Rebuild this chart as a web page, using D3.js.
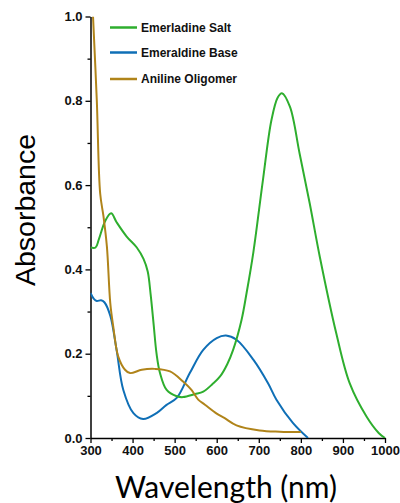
<!DOCTYPE html>
<html>
<head>
<meta charset="utf-8">
<style>
  body { margin: 0; background: #fff; }
  svg { display: block; }
  .tick text { font-family: "Liberation Sans", Arial, sans-serif; font-weight: bold; font-size: 13px; fill: #111; }
</style>
</head>
<body>
<script src="https://cdn.jsdelivr.net/npm/d3@7"></script>
<script>
// data
var saltX = [300, 312, 320, 335, 349, 362, 386, 410, 426, 436, 443, 450, 457, 465, 481, 505, 520, 548, 568, 590, 608, 625, 639, 659, 671, 687, 710, 730, 745, 755, 774, 797, 821, 845, 884, 916, 956, 985, 1000];
var saltY = [0.452, 0.452, 0.472, 0.515, 0.533, 0.512, 0.478, 0.452, 0.425, 0.395, 0.34, 0.27, 0.2, 0.155, 0.114, 0.099, 0.097, 0.104, 0.110, 0.128, 0.146, 0.175, 0.209, 0.28, 0.344, 0.44, 0.613, 0.754, 0.808, 0.818, 0.786, 0.675, 0.557, 0.43, 0.249, 0.13, 0.051, 0.012, 0];

var baseX = [300, 308, 315, 325, 333, 347, 362, 378, 402, 425, 457, 480, 505, 536, 568, 600, 622, 647, 687, 722, 742, 781, 817];
var baseY = [0.344, 0.33, 0.325, 0.327, 0.322, 0.29, 0.209, 0.114, 0.059, 0.045, 0.059, 0.078, 0.095, 0.154, 0.209, 0.237, 0.243, 0.233, 0.186, 0.130, 0.091, 0.036, 0];

var oligX = [306, 315, 323, 331, 339, 347, 354, 366, 382, 394, 422, 453, 489, 520, 540, 556, 572, 600, 619, 647, 702, 750, 800];
var oligY = [1.0, 0.80, 0.58, 0.525, 0.454, 0.32, 0.265, 0.193, 0.162, 0.154, 0.162, 0.164, 0.158, 0.134, 0.114, 0.091, 0.079, 0.058, 0.047, 0.030, 0.018, 0.015, 0.014];

var seriesNames = ["Emerladine Salt", "Emeraldine Base", "Aniline Oligomer"];
var seriesColors = ["#2eae2e", "#0f6fb6", "#b0841a"];

var xTicks = [300, 400, 500, 600, 700, 800, 900, 1000];
var yTicks = [0, 0.2, 0.4, 0.6, 0.8, 1.0];

var W = 400, H = 503;
var margin = {top: 16.5, right: 15, bottom: 65, left: 90.5};
var width = W - margin.left - margin.right,
    height = H - margin.top - margin.bottom;

var svg = d3.select("body").append("svg")
    .attr("width", W)
    .attr("height", H);

var g = svg.append("g")
    .attr("transform", "translate(" + margin.left + "," + margin.top + ")");

var x = d3.scaleLinear().domain([300, 1000]).range([0, width]);
var y = d3.scaleLinear().domain([0, 1.0]).range([height, 0]);

svg.append("defs").append("clipPath").attr("id", "clip")
  .append("rect").attr("x", 0).attr("y", 0).attr("width", width + 2).attr("height", height);

// minor ticks
g.append("g")
    .attr("transform", "translate(0," + height + ")")
    .call(d3.axisBottom(x).tickValues(d3.range(350, 1000, 100)).tickSize(3).tickFormat(""))
    .call(function(s) { s.select(".domain").remove(); s.selectAll("line").attr("stroke-width", 1.3); });
g.append("g")
    .call(d3.axisLeft(y).tickValues([0.1, 0.3, 0.5, 0.7, 0.9]).tickSize(3).tickFormat(""))
    .call(function(s) { s.select(".domain").remove(); s.selectAll("line").attr("stroke-width", 1.3); });

// major axes
var xAxis = g.append("g")
    .attr("transform", "translate(0," + height + ")")
    .call(d3.axisBottom(x).tickValues(xTicks).tickSize(5).tickSizeOuter(0).tickPadding(3).tickFormat(d3.format("d")));
var yAxis = g.append("g")
    .call(d3.axisLeft(y).tickValues(yTicks).tickSize(5).tickSizeOuter(0).tickPadding(3).tickFormat(d3.format(".1f")));
[xAxis, yAxis].forEach(function(a) {
  a.select(".domain").attr("stroke-width", 1.5);
  a.selectAll(".tick line").attr("stroke-width", 1.3);
});

var line = d3.line()
    .x(function(d) { return x(d[0]); })
    .y(function(d) { return y(d[1]); })
    .curve(d3.curveCatmullRom.alpha(0.5));

var series = [d3.zip(saltX, saltY), d3.zip(baseX, baseY), d3.zip(oligX, oligY)];
var order = [1, 0, 2];
order.forEach(function(i) {
  g.append("path")
      .datum(series[i])
      .attr("clip-path", "url(#clip)")
      .attr("fill", "none")
      .attr("stroke", seriesColors[i])
      .attr("stroke-width", 2)
      .attr("d", line);
});

// legend
var legend = svg.append("g").attr("transform", "translate(110,27.5)");
seriesNames.forEach(function(name, i) {
  var ly = [0, 25, 51.5][i];
  legend.append("line")
      .attr("x1", 0).attr("x2", 27).attr("y1", ly).attr("y2", ly)
      .attr("stroke", seriesColors[i]).attr("stroke-width", 2.5);
  legend.append("text")
      .attr("x", 31).attr("y", ly + 4)
      .attr("font-family", "Liberation Sans, Arial, sans-serif")
      .attr("font-weight", "bold")
      .attr("font-size", "12px")
      .attr("fill", "#111")
      .text(name);
});

// axis titles
svg.append("text")
    .attr("transform", "translate(35,210) rotate(-90)")
    .attr("text-anchor", "middle")
    .attr("font-family", "Liberation Sans, Arial, sans-serif")
    .attr("font-size", "28.5px")
    .attr("fill", "#000")
    .text("Absorbance");

svg.append("text")
    .attr("x", 226)
    .attr("y", 498)
    .attr("text-anchor", "middle")
    .attr("font-family", "Lato, sans-serif")
    .attr("font-size", "30px")
    .attr("fill", "#000")
    .text("Wavelength (nm)");
</script>
</body>
</html>
